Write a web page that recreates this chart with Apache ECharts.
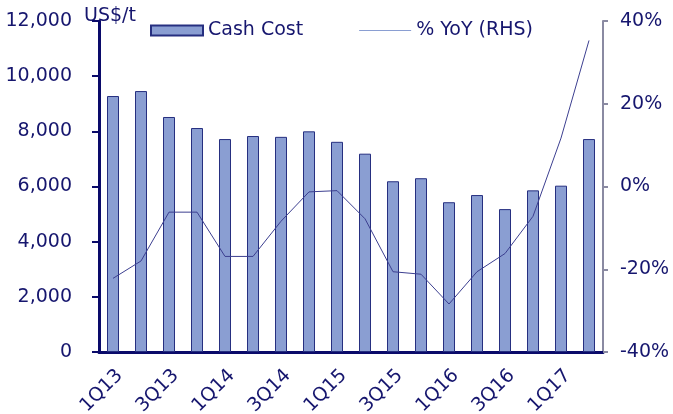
<!DOCTYPE html>
<html>
<head>
<meta charset="utf-8">
<script src="https://cdn.jsdelivr.net/npm/echarts@6/dist/echarts.min.js"></script>
<style>
html,body{margin:0;padding:0;background:#fff;}
.cost{width:673px;height:414px;}
</style>
</head>
<body>
<div class="cost"></div>
<script>
// quarters, cash cost (US$/t) and % YoY
var quarters = ['1Q13','2Q13','3Q13','4Q13','1Q14','2Q14','3Q14','4Q14','1Q15','2Q15','3Q15','4Q15','1Q16','2Q16','3Q16','4Q16','1Q17','2Q17'];
var cashCost = [9280, 9460, 8520, 8120, 7720, 7830, 7800, 8000, 7620, 7190, 6190, 6300, 5430, 5690, 5180, 5860, 6030, 7720];
var yoy = [-22.2, -18.0, -6.2, -6.2, -16.9, -16.9, -8.4, -1.3, -1.0, -7.8, -20.6, -21.2, -28.4, -20.6, -16.2, -7.2, 11.7, 35.3];
var leftTicks = [0, 12000, 2000];
var rightTicks = [-40, 40, 20];

var navy = '#16166e';
var font = 'DejaVu Sans';
// thin line icon for the % YoY legend entry (tiny strips keep the 52x10 box)
var lineIcon = 'path://M0,0L52,0L52,0.01L0,0.01Z M0,4.5L52,4.5L52,5.5L0,5.5Z M0,9.99L52,9.99L52,10L0,10Z';

var charts = echarts.init(document.getElementsByClassName('cost')[0]);
charts.setOption({
  animation: false,
  textStyle: {fontFamily: font, color: navy},
  color: ['#8a9ed2', '#3c3f90'],
  grid: {left: 99, right: 70, top: 21, bottom: 62, outerBoundsMode: 'none'},
  legend: {
    left: 145,
    top: 16,
    itemWidth: 52,
    itemHeight: 10,
    itemGap: 56,
    textStyle: {fontFamily: font, fontSize: 19, color: navy},
    data: [{name: 'Cash Cost', icon: 'rect'}, {name: '% YoY (RHS)', icon: lineIcon}]
  },
  graphic: [{
    type: 'text',
    style: {x: 110, y: 16, text: 'US$/t', align: 'center', verticalAlign: 'middle',
      font: '19px "DejaVu Sans"', fill: navy}
  }],
  xAxis: [{
    type: 'category',
    data: quarters,
    axisLine: {lineStyle: {color: '#0a0a6a', width: 3}},
    axisTick: {length: 5, lineStyle: {color: '#0a0a6a', width: 2}},
    axisLabel: {interval: 1, rotate: 45, margin: 14, verticalAlign: 'top', fontSize: 19, color: navy}
  }],
  yAxis: [
    {
      type: 'value',
      min: leftTicks[0], max: leftTicks[1], interval: leftTicks[2],
      splitLine: {show: false},
      axisLine: {show: true, lineStyle: {color: '#0a0a6a', width: 3}},
      axisTick: {show: true, length: 7, lineStyle: {color: '#0a0a6a', width: 2}},
      axisLabel: {margin: 27, fontSize: 19, color: navy,
        formatter: function (v) { return v.toLocaleString('en-US'); }}
    },
    {
      type: 'value',
      position: 'right',
      min: rightTicks[0], max: rightTicks[1], interval: rightTicks[2],
      splitLine: {show: false},
      axisLine: {show: true, lineStyle: {color: '#8a8aa2', width: 2}},
      axisTick: {show: true, length: 5, lineStyle: {color: '#8a8aa2', width: 2}},
      axisLabel: {margin: 17, fontSize: 19, color: navy, formatter: '{value}%'}
    }
  ],
  series: [
    {
      name: 'Cash Cost',
      type: 'bar',
      barWidth: 12,
      itemStyle: {color: '#8a9ed2', borderColor: '#262f80', borderWidth: 1},
      data: cashCost
    },
    {
      name: '% YoY (RHS)',
      type: 'line',
      yAxisIndex: 1,
      symbol: 'none',
      lineStyle: {color: '#3c3f90', width: 1},
      data: yoy
    }
  ]
});
</script>
</body>
</html>
